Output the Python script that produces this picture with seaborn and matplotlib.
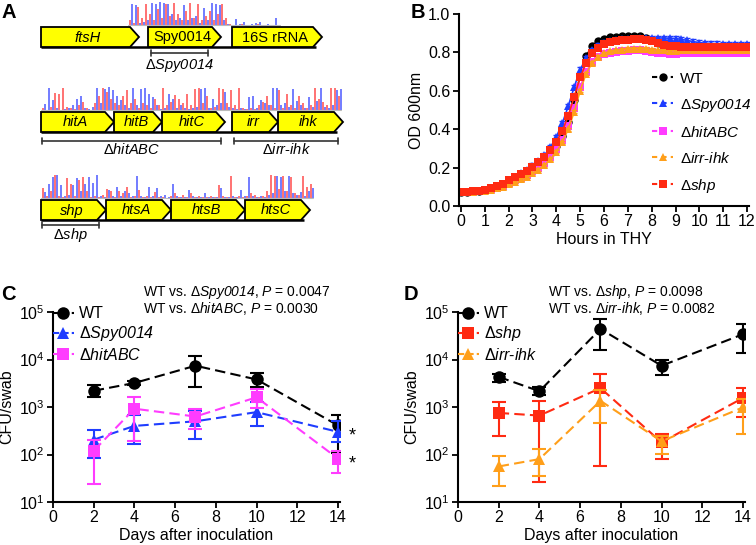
import numpy as np
import pandas as pd
import matplotlib
matplotlib.use("Agg")
import matplotlib.pyplot as plt
import seaborn as sns
from matplotlib.patches import Polygon
from matplotlib.lines import Line2D

# ---------------- Panel A: gene maps with read tracks ----------------
row1_genes = ["ftsH", "Spy0014", "16S rRNA"]
row1_start = [41, 148, 232]
row1_end = [139, 221, 322]
row1_italic = [True, False, False]

row2_genes = ["hitA", "hitB", "hitC", "irr", "ihk"]
row2_start = [41, 114, 162, 232, 278]
row2_end = [114, 162, 225, 278, 343]
row2_italic = [True, True, True, True, True]

row3_genes = ["shp", "htsA", "htsB", "htsC"]
row3_start = [41, 106, 171, 245]
row3_end = [106, 171, 245, 310]
row3_italic = [True, True, True, True]

# everything inside $...$ is set in the italic face (see rcParams below)
deletion_names = [r"Δ$Spy0014$", r"Δ$hitABC$", r"Δ$irr$-$ihk$", r"Δ$shp$"]
deletion_start = [151, 42, 234, 42]
deletion_end = [208, 221, 338, 99]
deletion_row = [0, 1, 1, 2]

# track signal (relative height), plus / minus strand
track1_red = [0.2, 0.1, 0.8, 0.3, 0.9, 0.5, 0.2, 0.7, 0.3, 0.9, 0.4, 0.95, 0.5,
              0.2, 0.6, 0.95, 0.3, 0.9, 0.2, 0.4, 0.6, 0.2, 0.5, 0.9, 0.3, 0.05,
              0.0, 0.0, 0.05, 0.0, 0.0, 0.0, 0.05, 0.0, 0.0, 0.0, 0.0, 0.0]
track1_blue = [0.9, 0.85, 0.1, 0.15, 0.2, 0.95, 0.9, 1.0, 0.95, 0.9, 0.5, 0.2, 0.3,
               0.85, 0.2, 0.3, 0.4, 0.1, 0.75, 0.2, 0.95, 0.9, 0.85, 0.2, 0.05, 0.0,
               0.25, 0.05, 0.12, 0.0, 0.05, 0.1, 0.15, 0.0, 0.05, 0.0, 0.3, 0.0]
track2_red = [0.1, 0.0, 0.15, 0.75, 0.7, 0.95, 0.15, 0.1, 0.05, 0.2, 0.35, 0.1, 0.0,
              0.3, 0.6, 0.95, 0.8, 0.5, 0.3, 0.2, 0.6, 0.85, 0.3, 0.5, 0.1, 0.3,
              0.2, 0.1, 0.5, 0.2, 0.95, 0.2, 0.35, 0.65, 0.5, 0.3, 0.7, 0.2, 0.9,
              0.95, 0.3, 0.6, 0.1, 0.15, 0.95, 0.9, 0.3, 0.85, 0.2, 0.95, 0.1, 0.05,
              0.1, 0.05, 0.2, 0.35, 0.6, 0.2, 0.1, 0.85, 0.1, 0.7, 0.2, 0.1, 0.6,
              0.3, 0.1, 0.2, 0.95, 0.5, 0.35, 0.2, 0.95, 0.95, 0.6]
track2_blue = [0.25, 0.95, 0.45, 0.1, 0.0, 0.05, 0.1, 0.2, 0.5, 0.6, 0.1, 0.05, 0.15,
               0.95, 0.3, 0.9, 1.0, 0.85, 0.6, 0.45, 0.2, 0.1, 0.95, 0.2, 0.9, 0.95,
               0.7, 0.55, 0.2, 0.05, 0.1, 0.7, 0.5, 0.1, 0.2, 0.1, 0.05, 0.1, 0.15,
               0.9, 0.95, 0.1, 0.5, 0.2, 0.3, 0.8, 0.15, 0.1, 0.05, 0.1, 0.05, 0.55,
               0.6, 0.1, 0.45, 0.3, 0.2, 0.95, 0.95, 0.2, 0.3, 0.15, 0.9, 0.4, 0.2,
               0.1, 0.55, 0.15, 0.4, 0.95, 0.15, 0.1, 0.2, 0.85, 0.9]
track3_red = [0.45, 0.1, 0.3, 1.0, 0.1, 0.05, 0.85, 0.6, 0.1, 0.8, 0.9, 0.3, 0.05,
              0.1, 0.05, 0.15, 0.4, 0.3, 0.05, 0.3, 0.2, 0.5, 0.05, 0.1, 0.35, 0.05,
              0.1, 0.05, 0.25, 0.05, 0.05, 0.0, 0.1, 0.2, 0.05, 0.15, 0.05, 0.2,
              0.05, 0.1, 0.05, 0.05, 0.1, 0.05, 0.55, 0.1, 0.05, 0.95, 0.05, 0.1,
              0.05, 0.1, 0.2, 0.15, 0.05, 0.1, 0.3, 1.0, 0.95, 0.4, 0.95, 0.3, 0.9,
              0.2, 0.15, 0.95, 0.5, 0.6]
track3_blue = [0.25, 0.6, 0.9, 1.0, 0.55, 0.1, 0.15, 0.55, 0.85, 0.3, 0.6, 0.9, 0.65,
               1.0, 0.1, 0.05, 0.35, 0.1, 0.5, 0.1, 0.3, 0.2, 0.1, 0.95, 0.1, 0.05,
               0.5, 0.1, 0.45, 0.1, 0.15, 0.05, 0.6, 0.1, 0.05, 0.05, 0.35, 0.1,
               0.05, 0.05, 0.2, 0.05, 0.05, 0.05, 0.45, 0.05, 0.05, 0.1, 0.05, 0.35,
               0.1, 0.9, 0.1, 0.05, 0.1, 0.05, 0.15, 0.2, 0.95, 0.9, 0.3, 0.95, 0.2,
               0.15, 0.25, 0.1, 0.3, 0.45]
track_starts = [129, 42, 42]

# ---------------- Panel B: growth curves ----------------
hours = np.arange(0, 12.5, 0.25)
od_wt = [0.075, 0.075, 0.076, 0.078, 0.083, 0.090, 0.099, 0.110, 0.128, 0.142,
         0.157, 0.173, 0.193, 0.215, 0.240, 0.272, 0.312, 0.365, 0.440, 0.550,
         0.680, 0.780, 0.835, 0.860, 0.872, 0.878, 0.882, 0.884, 0.885, 0.886,
         0.885, 0.876, 0.862, 0.850, 0.842, 0.836, 0.832, 0.830, 0.830, 0.830,
         0.830, 0.830, 0.830, 0.830, 0.830, 0.830, 0.830, 0.830, 0.830, 0.830]
od_spy = [0.075, 0.075, 0.076, 0.079, 0.085, 0.093, 0.104, 0.117, 0.137, 0.153,
          0.170, 0.188, 0.210, 0.235, 0.265, 0.305, 0.360, 0.430, 0.520, 0.620,
          0.710, 0.770, 0.810, 0.835, 0.850, 0.858, 0.864, 0.868, 0.870, 0.872,
          0.873, 0.874, 0.875, 0.875, 0.875, 0.874, 0.872, 0.868, 0.862, 0.856,
          0.851, 0.848, 0.846, 0.845, 0.844, 0.844, 0.843, 0.843, 0.843, 0.843]
od_hit = [0.075, 0.075, 0.075, 0.077, 0.081, 0.087, 0.095, 0.105, 0.120, 0.133,
          0.147, 0.162, 0.180, 0.200, 0.224, 0.255, 0.295, 0.345, 0.415, 0.510,
          0.620, 0.700, 0.750, 0.775, 0.790, 0.797, 0.802, 0.806, 0.808, 0.810,
          0.810, 0.808, 0.803, 0.798, 0.795, 0.794, 0.794, 0.795, 0.795, 0.795,
          0.795, 0.795, 0.795, 0.795, 0.795, 0.795, 0.795, 0.795, 0.795, 0.795]
od_irr = [0.075, 0.075, 0.075, 0.077, 0.080, 0.085, 0.092, 0.101, 0.114, 0.126,
          0.139, 0.153, 0.170, 0.190, 0.213, 0.243, 0.282, 0.332, 0.400, 0.490,
          0.600, 0.690, 0.745, 0.778, 0.795, 0.805, 0.811, 0.815, 0.818, 0.820,
          0.820, 0.818, 0.815, 0.812, 0.810, 0.809, 0.809, 0.810, 0.810, 0.810,
          0.810, 0.810, 0.810, 0.810, 0.810, 0.810, 0.810, 0.810, 0.810, 0.810]
od_shp = [0.075, 0.075, 0.076, 0.079, 0.085, 0.093, 0.103, 0.115, 0.135, 0.150,
          0.166, 0.183, 0.205, 0.228, 0.255, 0.290, 0.335, 0.390, 0.470, 0.570,
          0.670, 0.745, 0.795, 0.825, 0.845, 0.853, 0.859, 0.863, 0.866, 0.868,
          0.868, 0.865, 0.857, 0.848, 0.840, 0.835, 0.831, 0.829, 0.828, 0.827,
          0.826, 0.826, 0.826, 0.826, 0.826, 0.826, 0.826, 0.826, 0.826, 0.826]
od_sd = [0.008, 0.012, 0.008, 0.008, 0.010]

# ---------------- Panels C/D: colonisation ----------------
days = [2, 4, 7, 10, 14]
c_wt = [2200, 3200, 7400, 3800, 410]
c_wt_lo = [1600, 2900, 2650, 2700, 110]
c_wt_hi = [2950, 3500, 12000, 5200, 690]
c_spy = [205, 400, 500, 780, 300]
c_spy_lo = [85, 170, 213, 400, 180]
c_spy_hi = [335, 690, 810, 1250, 500]
c_hit = [120, 920, 630, 1600, 82]
c_hit_lo = [24, 190, 345, 960, 41]
c_hit_hi = [205, 1650, 910, 2400, 117]

d_wt = [4300, 2150, 44000, 7400, 34000]
d_wt_lo = [3300, 1800, 16000, 4800, 14000]
d_wt_hi = [5000, 2700, 72000, 10000, 56000]
d_shp = [750, 660, 2500, 180, 1550]
d_shp_lo = [250, 26, 56, 80, 630]
d_shp_hi = [1270, 1320, 4900, 275, 2500]
d_irr = [56, 80, 1350, 190, 980]
d_irr_lo = [22, 35, 460, 103, 265]
d_irr_hi = [91, 133, 2300, 240, 1500]

lab_wt = "WT"
lab_spy = r"Δ$Spy0014$"
lab_hit = r"Δ$hitABC$"
lab_irr = r"Δ$irr$-$ihk$"
lab_shp = r"Δ$shp$"

col = {"wt": "black", "spy": "#1f3dff", "hit": "#ff3cff",
       "irr": "#ff9f1a", "shp": "#ff2a12"}

sns.set_theme(style="ticks")
plt.rcParams["font.family"] = ["Liberation Sans", "DejaVu Sans"]
plt.rcParams["mathtext.fontset"] = "custom"
plt.rcParams["mathtext.rm"] = "Liberation Sans:italic"
plt.rcParams["mathtext.it"] = "Liberation Sans:italic"
plt.rcParams["mathtext.bf"] = "Liberation Sans:bold"
plt.rcParams["text.color"] = "black"
plt.rcParams["axes.labelcolor"] = "black"
plt.rcParams["xtick.color"] = "black"
plt.rcParams["ytick.color"] = "black"
plt.rcParams["axes.edgecolor"] = "black"

W, H = 756, 545
fig = plt.figure(figsize=(W / 100, H / 100), dpi=100)

# ---- A ----
ax_a = fig.add_axes([0, 1 - 260 / H, 380 / W, 260 / H])
ax_a.set_xlim(0, 380)
ax_a.set_ylim(260, 0)
ax_a.axis("off")

rows = [(row1_genes, row1_start, row1_end, row1_italic),
        (row2_genes, row2_start, row2_end, row2_italic),
        (row3_genes, row3_start, row3_end, row3_italic)]
row_top = [27, 112, 200]
tracks = [(track1_red, track1_blue), (track2_red, track2_blue), (track3_red, track3_blue)]
arrow_h = 20
head = 9
track_h = 23

for r, (genes, starts, ends, ital) in enumerate(rows):
    y0 = row_top[r]
    # read track
    red, blue = tracks[r]
    base = y0 - 2
    xs = track_starts[r] + 4 * np.arange(len(red))
    ax_a.plot([xs[0] - 1, xs[-1] + 3], [base, base], color="#bbbbbb", lw=0.8)
    ax_a.bar(xs, -track_h * np.array(red), bottom=base, width=1.8,
             color="#ff1a1a", alpha=0.6, align="edge", linewidth=0)
    ax_a.bar(xs + 2, -track_h * np.array(blue), bottom=base, width=1.8,
             color="#1a2aff", alpha=0.6, align="edge", linewidth=0)
    # backbone
    ax_a.plot([starts[0], ends[-1] - 6], [y0 + arrow_h, y0 + arrow_h], color="black", lw=1.8,
              solid_capstyle="butt", zorder=2)
    for g, s, e, it in zip(genes, starts, ends, ital):
        pts = [(s, y0), (e - head, y0), (e, y0 + arrow_h / 2), (e - head, y0 + arrow_h), (s, y0 + arrow_h)]
        ax_a.add_patch(Polygon(pts, closed=True, fc="#ffff00", ec="black", lw=1.3,
                               joinstyle="miter", zorder=3))
        ax_a.text((s + e) / 2 - 2, y0 + arrow_h / 2 + 0.5, g, ha="center", va="center",
                  fontsize=10.5, style="italic" if it else "normal", zorder=4)

bracket_y = [53, 141, 225]
label_y = [66, 149, 235]
for name, s, e, r in zip(deletion_names, deletion_start, deletion_end, deletion_row):
    by = bracket_y[r]
    ax_a.plot([s, e], [by, by], color="#333333", lw=1.2)
    ax_a.plot([s, s], [by - 3, by + 3], color="#333333", lw=1.2)
    ax_a.plot([e, e], [by - 3, by + 3], color="#333333", lw=1.2)
    ax_a.text((s + e) / 2, label_y[r], name, ha="center", va="center", fontsize=10.5)


def style_axes(ax):
    sns.despine(ax=ax)
    for sp in ["left", "bottom"]:
        ax.spines[sp].set_linewidth(1.5)
    ax.tick_params(axis="both", which="major", length=4, width=1.3, labelsize=11.5, pad=2)
    ax.tick_params(axis="both", which="minor", length=0)
    ax.grid(False)
    ax.set_facecolor("white")


# ---- B ----
ax_b = fig.add_axes([458.6 / W, 1 - 206 / H, 290.8 / W, 192 / H])
b_series = [(od_wt, "wt", "o", lab_wt), (od_spy, "spy", "^", lab_spy),
            (od_hit, "hit", "s", lab_hit), (od_irr, "irr", "^", lab_irr),
            (od_shp, "shp", "s", lab_shp)]
b_handles = []
for (vals, key, m, lab), sd in zip(b_series, od_sd):
    ax_b.errorbar(hours, vals, yerr=sd, fmt="none", ecolor=col[key], elinewidth=1.0,
                  capsize=2, capthick=1.0)
    sns.lineplot(x=hours, y=vals, color=col[key], marker=m, markersize=6,
                 markeredgewidth=0, linewidth=1.2, errorbar=None, ax=ax_b)
    b_handles.append(Line2D([0], [0], color=col[key], marker=m, markersize=6, mew=0,
                            lw=1.5, linestyle=(0, (2.5, 2))))
ax_b.set_xlim(-0.1, 12.1)
ax_b.set_ylim(0, 1.0)
ax_b.set_xticks(range(0, 13))
ax_b.set_yticks(np.arange(0, 1.01, 0.2))
ax_b.set_yticklabels([f"{v:.1f}" for v in np.arange(0, 1.01, 0.2)])
ax_b.set_xlabel("Hours in THY", fontsize=11.5, labelpad=2)
ax_b.set_ylabel("OD 600nm", fontsize=11.5, labelpad=3)
style_axes(ax_b)
ax_b.legend(b_handles, [s[3] for s in b_series], loc="upper left",
            bbox_to_anchor=(0.665, 0.70), frameon=False, fontsize=11,
            handlelength=1.4, handletextpad=0.45, labelspacing=0.72,
            borderpad=0, borderaxespad=0)


def cfu_panel(ax, series, ptext):
    handles = []
    for mean, lo, hi, key, m, ms, lab in series:
        mean = np.array(mean, float)
        yerr = np.vstack([mean - np.array(lo), np.array(hi) - mean])
        ax.errorbar(days, mean, yerr=yerr, fmt="none", ecolor=col[key], elinewidth=1.5,
                    capsize=5, capthick=1.5)
        sns.lineplot(x=days, y=mean, color=col[key], marker=m, markersize=ms,
                     markeredgewidth=0, linewidth=1.5, linestyle=(0, (5, 2.5)),
                     errorbar=None, ax=ax)
        handles.append(Line2D([0], [0], color=col[key], marker=m, markersize=ms, mew=0,
                              lw=1.5, linestyle=(0, (3, 1.5))))
    ax.set_yscale("log")
    ax.set_ylim(10, 1e5)
    ax.set_xlim(0, 14.1)
    ax.set_xticks(range(0, 15, 2))
    ax.set_yticks([1e1, 1e2, 1e3, 1e4, 1e5])
    ax.set_xlabel("Days after inoculation", fontsize=11.5, labelpad=2)
    ax.set_ylabel("CFU/swab", fontsize=11.5, labelpad=3)
    style_axes(ax)
    ax.legend(handles, [s[6] for s in series], loc="upper left",
              bbox_to_anchor=(0.0, 1.03), frameon=False, fontsize=11.5,
              handlelength=1.3, handletextpad=0.3, labelspacing=0.2,
              borderpad=0, borderaxespad=0)
    ax.text(0.312, 1.105, ptext[0], transform=ax.transAxes, ha="left", va="center", fontsize=10)
    ax.text(0.312, 1.016, ptext[1], transform=ax.transAxes, ha="left", va="center", fontsize=10)


ax_c = fig.add_axes([53 / W, 1 - 502 / H, 287 / W, 190 / H])
cfu_panel(ax_c,
          [(c_wt, c_wt_lo, c_wt_hi, "wt", "o", 9, lab_wt),
           (c_spy, c_spy_lo, c_spy_hi, "spy", "^", 8, lab_spy),
           (c_hit, c_hit_lo, c_hit_hi, "hit", "s", 8.5, lab_hit)],
          [r"WT vs. Δ$Spy0014$, $P$ = 0.0047",
           r"WT vs. Δ$hitABC$, $P$ = 0.0030"])
ax_c.text(1.042, 0.35, "*", transform=ax_c.transAxes, ha="center", va="center", fontsize=13)
ax_c.text(1.042, 0.2, "*", transform=ax_c.transAxes, ha="center", va="center", fontsize=13)

ax_d = fig.add_axes([458 / W, 1 - 502 / H, 287 / W, 190 / H])
cfu_panel(ax_d,
          [(d_wt, d_wt_lo, d_wt_hi, "wt", "o", 9, lab_wt),
           (d_shp, d_shp_lo, d_shp_hi, "shp", "s", 8.5, lab_shp),
           (d_irr, d_irr_lo, d_irr_hi, "irr", "^", 8, lab_irr)],
          [r"WT vs. Δ$shp$, $P$ = 0.0098",
           r"WT vs. Δ$irr$-$ihk$, $P$ = 0.0082"])

# panel letters
for lx, ly, letter in [(1, 3, "A"), (411, 3, "B"), (1, 285, "C"), (404, 285, "D")]:
    fig.text(lx / W, 1 - ly / H, letter, ha="left", va="top", fontsize=14.5, fontweight="bold")

fig.savefig("out.png", dpi=100, facecolor="white")
